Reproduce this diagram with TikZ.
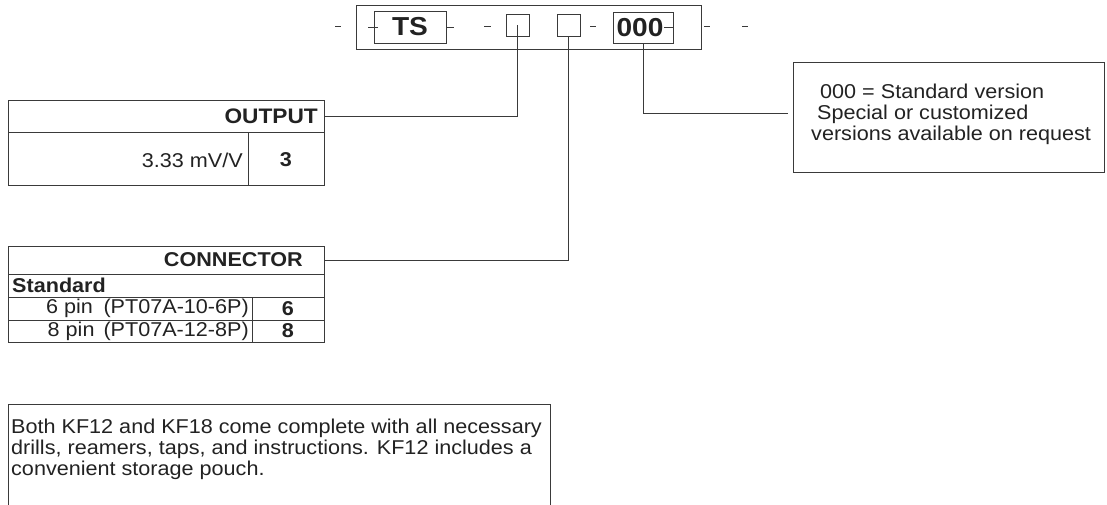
\documentclass[tikz,border=0pt]{standalone}
\usepackage{fontspec}
\setmainfont{Liberation Sans}[FakeStretch=1.08]
\definecolor{lc}{HTML}{3A3A3A}
\definecolor{tc}{HTML}{222222}
\begin{document}
\begin{tikzpicture}[x=1pt,y=-1pt,
  ln/.style={draw=lc, line width=0.8pt},
  cell/.style={ln, inner sep=0pt, outer sep=0pt, anchor=north west},
  txt/.style={text=tc, inner sep=0pt, font=\fontsize{20}{22}\selectfont},
  btxt/.style={text=tc, inner sep=0pt, font=\fontsize{20}{22}\selectfont\bfseries},
  big/.style={text=tc, inner sep=0pt, font=\fontsize{26}{26}\selectfont\bfseries},
  dashmark/.style={draw=lc, line width=0.8pt}
]
\useasboundingbox (0,0) rectangle (1107,504);

% ---- top code bar ----
\node[cell, minimum width=345, minimum height=44] (outer) at (356,5) {};
\node[cell, minimum width=72, minimum height=32] (tsbox) at (374,11) {};
\node[cell, minimum width=23, minimum height=22] (b1) at (506,14) {};
\node[cell, minimum width=23, minimum height=22] (b2) at (557,14) {};
\node[cell, minimum width=60, minimum height=31] (zbox) at (613,12) {};
\node[big] (tstxt) at (410,27) {TS};
\node[big] (ztxt) at (640,28) {000};
\draw[dashmark] (335,26) -- (341,26);
\draw[dashmark] (368,27) -- (378,27);
\draw[dashmark] (446,27) -- (454,27);
\draw[dashmark] (484,26) -- (491,26);
\draw[dashmark] (590,26) -- (596,26);
\draw[dashmark] (664,27) -- (673,27);
\draw[dashmark] (704,26) -- (710,26);
\draw[dashmark] (742,26) -- (748,26);

% ---- OUTPUT table ----
\node[cell, minimum width=316, minimum height=32] (outhead) at (8,100) {};
\node[cell, minimum width=240, minimum height=53] (outval) at (8,132) {};
\node[cell, minimum width=76, minimum height=53] (outcode) at (248,132) {};
\node[btxt, anchor=east, font=\fontsize{21}{22}\selectfont\bfseries] (outlbl) at (318,116) {OUTPUT};
\node[txt, anchor=east] (outv) at (243,160) {3.33 mV/V};
\node[btxt] (outc) at (286,160) {3};

% ---- CONNECTOR table ----
\node[cell, minimum width=316, minimum height=28] (conhead) at (8,246) {};
\node[cell, minimum width=316, minimum height=23] (constd) at (8,274) {};
\node[cell, minimum width=244, minimum height=23] (c6a) at (8,297) {};
\node[cell, minimum width=72, minimum height=23] (c6b) at (252,297) {};
\node[cell, minimum width=244, minimum height=22] (c8a) at (8,320) {};
\node[cell, minimum width=72, minimum height=22] (c8b) at (252,320) {};
\node[btxt, anchor=east] (conlbl) at (303,260) {CONNECTOR};
\node[btxt, anchor=west] (stdlbl) at (12,285.5) {Standard};
\node[txt, anchor=west] (p6l) at (46,308.5) {6 pin};
\node[txt, anchor=east] (p6) at (249,308.5) {(PT07A-10-6P)};
\node[btxt] (p6c) at (288,308.5) {6};
\node[txt, anchor=east] (p8) at (249,331) {8 pin\hspace{9pt}(PT07A-12-8P)};
\node[btxt] (p8c) at (288,331) {8};

% ---- version note ----
\node[cell, minimum width=311, minimum height=110] (note) at (793,62) {};
\node[txt, anchor=base west] (n1) at (820,98) {000 = Standard version};
\node[txt, anchor=base west] (n2) at (817,119) {Special or customized};
\node[txt, anchor=base west] (n3) at (811,140) {versions available on request};

% ---- bottom note ----
\node[cell, minimum width=542, minimum height=120] (kit) at (8,404) {};
\node[txt, anchor=base west] (k1) at (11,433) {Both KF12 and KF18 come complete with all necessary};
\node[txt, anchor=base west] (k2) at (11,454) {drills, reamers, taps, and instructions. KF12 includes a};
\node[txt, anchor=base west] (k3) at (11,475) {convenient storage pouch.};

% ---- connectors ----
\coordinate (nend) at (788,113);
\draw[ln] (b1.center) |- (outhead.east);
\draw[ln] (b2.south) |- (conhead.east);
\draw[ln] (zbox.south) |- (nend);
\end{tikzpicture}
\end{document}
